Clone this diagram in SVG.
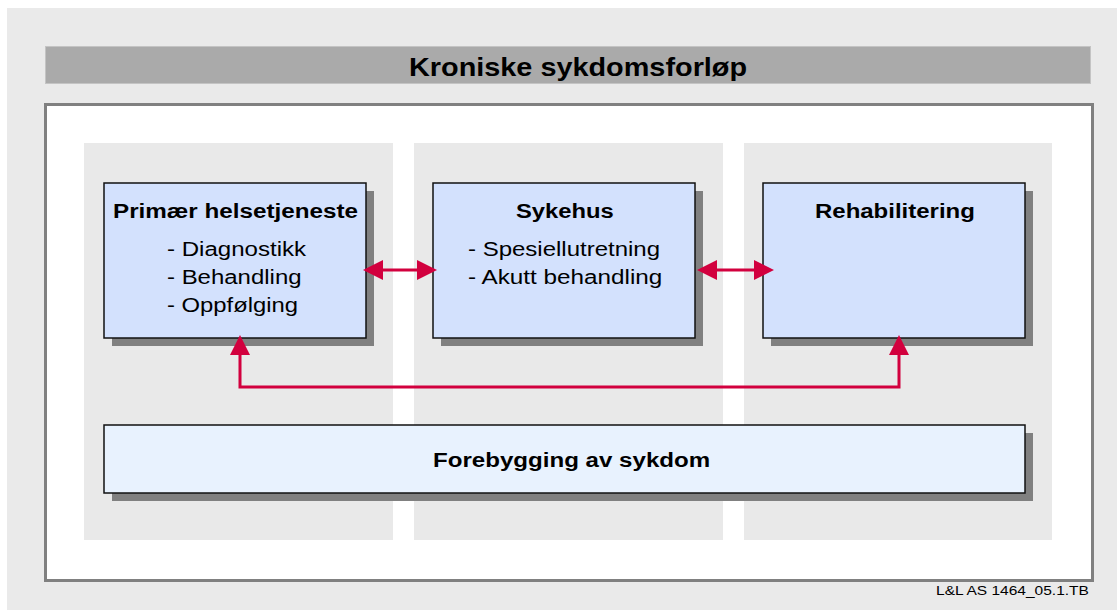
<svg xmlns="http://www.w3.org/2000/svg" width="1117" height="610" viewBox="0 0 1117 610">
  <style>
    text { font-family: "Liberation Sans", Arial, Helvetica, sans-serif; fill: #000; }
    .title { font-size: 25px; font-weight: bold; }
    .head { font-size: 21px; font-weight: bold; }
    .item { font-size: 21px; }
    .foot { font-size: 13.5px; }
    .panel { fill: #e9e9e9; }
    .shadow { fill: #808080; }
    .box { fill: #d3e1fd; stroke: #111; stroke-width: 1.5; }
    .base { fill: #e8f2fe; stroke: #111; stroke-width: 1.5; }
    .link { fill: none; stroke: #d2003e; stroke-width: 3; marker-start: url(#head); marker-end: url(#head); }
  </style>
  <defs>
    <marker id="head" markerUnits="userSpaceOnUse" markerWidth="20" markerHeight="20" refX="4" refY="10" orient="auto-start-reverse">
      <path d="M0,0 L20,10 L0,20 z" fill="#d2003e"/>
    </marker>
  </defs>

  <!-- background and frame; labels use a 1.15 horizontal stretch -->
  <rect x="7" y="8" width="1110" height="602" fill="#eaeaea"/>
  <g id="header">
    <rect x="45.5" y="46.5" width="1045" height="37" fill="#aaaaaa" stroke="#c4c4c4" stroke-width="1"/>
    <text class="title" transform="translate(409,76) scale(1.15,1)" textLength="294" lengthAdjust="spacingAndGlyphs">Kroniske sykdomsforløp</text>
  </g>
  <rect x="45.5" y="104.5" width="1047" height="476" fill="#ffffff" stroke="#808080" stroke-width="3"/>

  <!-- column panels -->
  <g id="panels">
    <rect class="panel" x="84" y="143" width="309" height="397"/>
    <rect class="panel" x="414" y="143" width="309" height="397"/>
    <rect class="panel" x="744" y="143" width="308" height="397"/>
  </g>

  <g id="primar">
    <rect class="shadow" x="112" y="191" width="262" height="155"/>
    <rect class="box" x="104" y="183" width="262" height="155"/>
    <text class="head" transform="translate(113,218) scale(1.15,1)" textLength="213" lengthAdjust="spacingAndGlyphs">Primær helsetjeneste</text>
    <text class="item" transform="translate(167,256) scale(1.15,1)" textLength="121" lengthAdjust="spacingAndGlyphs">- Diagnostikk</text>
    <text class="item" transform="translate(167,284) scale(1.15,1)" textLength="117" lengthAdjust="spacingAndGlyphs">- Behandling</text>
    <text class="item" transform="translate(167,312) scale(1.15,1)" textLength="114" lengthAdjust="spacingAndGlyphs">- Oppfølging</text>
  </g>

  <g id="sykehus">
    <rect class="shadow" x="441" y="191" width="262" height="155"/>
    <rect class="box" x="433" y="183" width="262" height="155"/>
    <text class="head" transform="translate(516,218) scale(1.15,1)" textLength="85" lengthAdjust="spacingAndGlyphs">Sykehus</text>
    <text class="item" transform="translate(468,256) scale(1.15,1)" textLength="167" lengthAdjust="spacingAndGlyphs">- Spesiellutretning</text>
    <text class="item" transform="translate(468,284) scale(1.15,1)" textLength="169" lengthAdjust="spacingAndGlyphs">- Akutt behandling</text>
  </g>

  <g id="rehabilitering">
    <rect class="shadow" x="771" y="191" width="262" height="155"/>
    <rect class="box" x="763" y="183" width="262" height="155"/>
    <text class="head" transform="translate(815,218) scale(1.15,1)" textLength="139" lengthAdjust="spacingAndGlyphs">Rehabilitering</text>
  </g>

  <g id="forebygging">
    <rect class="shadow" x="112" y="433" width="921" height="68"/>
    <rect class="base" x="104" y="425" width="921" height="68"/>
    <text class="head" transform="translate(433,467) scale(1.15,1)" textLength="241" lengthAdjust="spacingAndGlyphs">Forebygging av sykdom</text>
  </g>

  <!-- connectors -->
  <g id="connectors">
    <path class="link" d="M379,270 H421"/>
    <path class="link" d="M713,270 H758"/>
    <path class="link" d="M240,351 V387 H899 V351"/>
  </g>

  <text class="foot" transform="translate(936,595) scale(1.15,1)" textLength="133" lengthAdjust="spacingAndGlyphs">L&amp;L AS 1464_05.1.TB</text>
</svg>
